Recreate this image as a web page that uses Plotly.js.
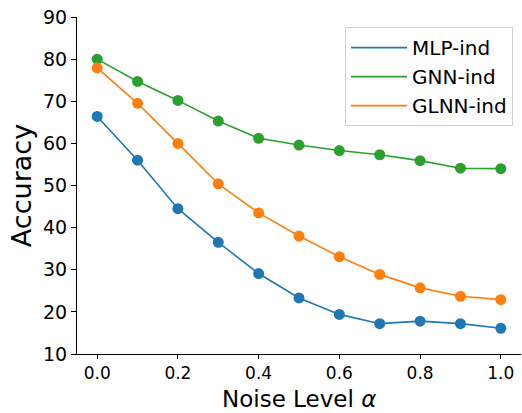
<!DOCTYPE html>
<html><head><meta charset="utf-8">
<script src="https://cdn.plot.ly/plotly-3.0.1.min.js"></script>
<style>html,body{margin:0;padding:0;background:#fff}#chart{width:522px;height:413px}</style>
</head><body><div id="chart"></div>
<script>
const noise = [0.0, 0.1, 0.2, 0.3, 0.4, 0.5, 0.6, 0.7, 0.8, 0.9, 1.0];
const mlpInd = [66.4, 56.0, 44.5, 36.5, 29.1, 23.3, 19.4, 17.2, 17.8, 17.2, 16.1];
const gnnInd = [80.0, 74.7, 70.2, 65.3, 61.2, 59.6, 58.3, 57.3, 55.9, 54.1, 54.0];
const glnnInd = [77.9, 69.5, 60.0, 50.4, 43.5, 38.0, 33.1, 28.9, 25.7, 23.7, 22.9];
const seriesNames = ["MLP-ind", "GNN-ind", "GLNN-ind"];
const colors = ["#1f77b4", "#2ca02c", "#ff7f0e"];
const xTicks = [0.0, 0.2, 0.4, 0.6, 0.8, 1.0];
const xTickText = ["0.0", "0.2", "0.4", "0.6", "0.8", "1.0"];
const yTicks = [10, 20, 30, 40, 50, 60, 70, 80, 90];
const xTitle = 'Noise Level <i>α</i>';
const yTitle = 'Accuracy';

const allY = [mlpInd, gnnInd, glnnInd];
const traces = [];
allY.forEach((ys, i) => {
  traces.push({x: noise, y: ys, mode: 'lines+markers', name: seriesNames[i], showlegend: false,
    line: {color: colors[i], width: 1.6}, marker: {color: colors[i], size: 11}});
});
allY.forEach((ys, i) => {
  traces.push({x: [null], y: [null], mode: 'lines', name: seriesNames[i],
    line: {color: colors[i], width: 1.6}});
});

const font = {family: 'DejaVu Sans, sans-serif', color: '#000'};
const plotH = 413 - 17 - 59;
const layout = {
  width: 522, height: 413,
  margin: {l: 77, r: 1, t: 17, b: 59},
  paper_bgcolor: '#fff', plot_bgcolor: '#fff',
  font: Object.assign({size: 19}, font),
  showlegend: true,
  legend: {x: 0.982, y: 0.97, xanchor: 'right', yanchor: 'top',
    bgcolor: 'rgba(255,255,255,0.8)', bordercolor: '#d0d0d0', borderwidth: 1,
    font: Object.assign({size: 20}, font), tracegroupgap: 0, itemwidth: 56},
  xaxis: {range: [-0.05, 1.05], tickvals: xTicks, ticktext: xTickText,
    showgrid: false, zeroline: false, showline: true, linecolor: '#000', linewidth: 1,
    ticks: 'outside', ticklen: 4, tickcolor: '#000', tickfont: Object.assign({size: 17}, font)},
  yaxis: {range: [10, 90], tickvals: yTicks,
    showgrid: false, zeroline: false, showline: true, linecolor: '#000', linewidth: 1,
    ticks: 'outside', ticklen: 5, tickcolor: '#000', tickfont: Object.assign({size: 19}, font),
    title: {text: yTitle, font: Object.assign({size: 27}, font), standoff: 3}},
  annotations: [{text: xTitle, xref: 'paper', yref: 'paper', x: 0.5, xanchor: 'center',
    y: -59 / plotH, yanchor: 'bottom', showarrow: false, borderpad: 0,
    font: Object.assign({size: 23}, font)}]
};
Plotly.newPlot('chart', traces, layout, {displayModeBar: false, staticPlot: true});
</script></body></html>
